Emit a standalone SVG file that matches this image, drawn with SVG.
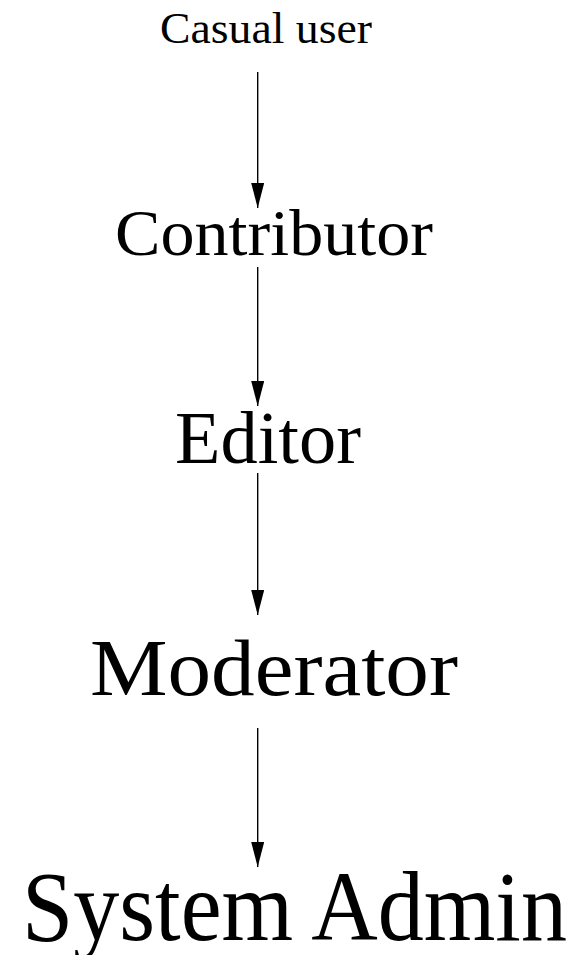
<svg xmlns="http://www.w3.org/2000/svg" width="588" height="955" viewBox="0 0 588 955">
<style>
text{font-family:"Liberation Serif","Times New Roman",serif;fill:#000}
.c{stroke:#000;stroke-width:1.4;fill:none}
</style>
<defs>
<marker id="ah" markerUnits="userSpaceOnUse" markerWidth="25" markerHeight="13" refX="25" refY="6.5" orient="auto" viewBox="0 0 25 13">
<path d="M0,0 L25,6.5 L0,13 Z" fill="#000"/>
</marker>
</defs>
<rect width="588" height="955" fill="#fff"/>
<g id="connectors">
<line class="c" x1="257.7" y1="72" x2="257.7" y2="208" marker-end="url(#ah)"/>
<line class="c" x1="257.7" y1="267" x2="257.7" y2="406" marker-end="url(#ah)"/>
<line class="c" x1="257.7" y1="473" x2="257.7" y2="615" marker-end="url(#ah)"/>
<line class="c" x1="257.7" y1="728" x2="257.7" y2="867" marker-end="url(#ah)"/>
</g>
<g id="casual"><text x="160" y="43" font-size="45" textLength="212" lengthAdjust="spacingAndGlyphs">Casual user</text></g>
<g id="contributor"><text x="115" y="255" font-size="66" textLength="318" lengthAdjust="spacingAndGlyphs">Contributor</text></g>
<g id="editor"><text x="175" y="463" font-size="75" textLength="186" lengthAdjust="spacingAndGlyphs">Editor</text></g>
<g id="moderator"><text x="90" y="695" font-size="80" textLength="368" lengthAdjust="spacingAndGlyphs">Moderator</text></g>
<g id="admin"><text x="22" y="940" font-size="100" textLength="545" lengthAdjust="spacingAndGlyphs">System Admin</text></g>
</svg>
